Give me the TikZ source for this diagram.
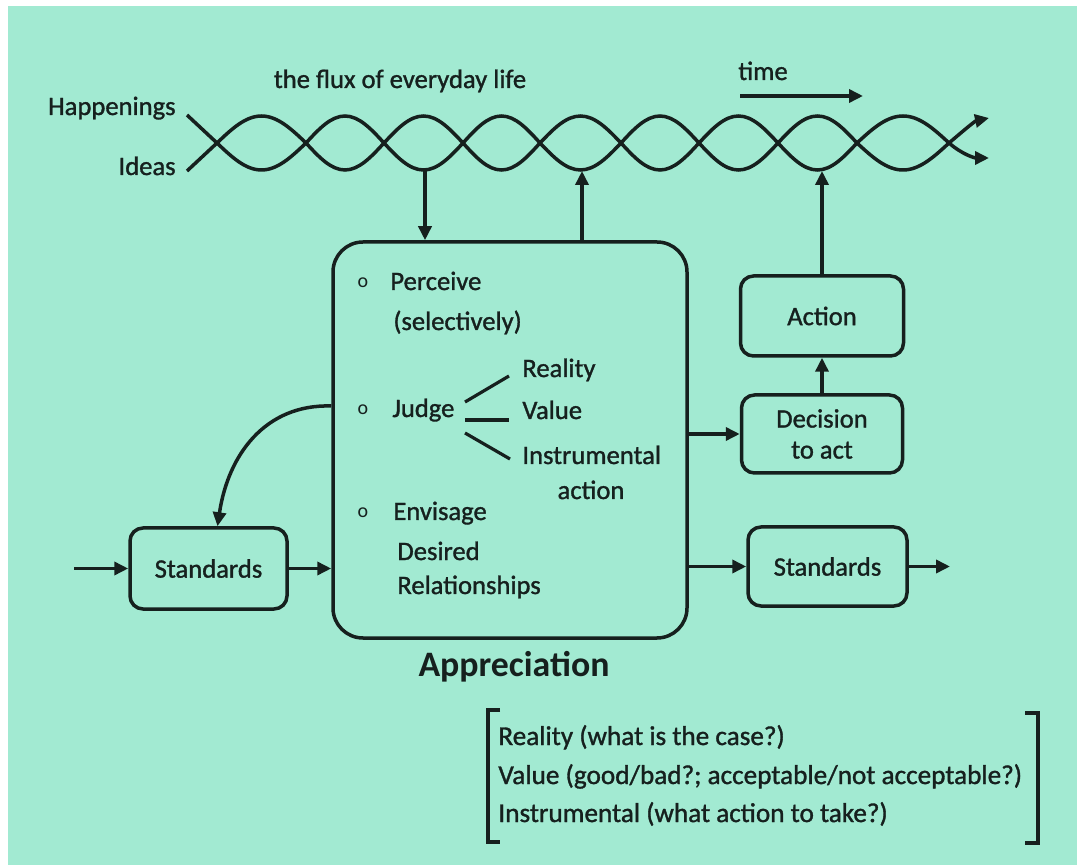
\documentclass[tikz,border=0pt]{standalone}
\usepackage{fontspec}
\setmainfont{Carlito}
\newfontfamily\medfont{Carlito}[FakeBold=1.2]
\usetikzlibrary{arrows.meta,calc}
\definecolor{mint}{RGB}{162,234,210}
\definecolor{ink}{RGB}{22,32,30}
\begin{document}
\begin{tikzpicture}[x=0.5pt,y=-0.5pt,
  txt/.style={font=\medfont\fontsize{13.3}{16}\selectfont, text=ink, inner sep=0pt},
  btxt/.style={font=\medfont\fontsize{13.6}{16}\selectfont, text=ink, inner sep=0pt},
  bul/.style={font=\fontsize{10}{12}\selectfont, text=ink, inner sep=0pt},
  box/.style={draw=ink, line width=1.75pt, rounded corners=6.5pt, inner sep=0pt,
     font=\medfont\fontsize{13.3}{15.5}\selectfont, text=ink, align=center},
  arr/.style={draw=ink, line width=1.75pt, -{Triangle[length=7pt,width=6.5pt]}},
  wave/.style={draw=ink, line width=1.75pt},
  plain/.style={draw=ink, line width=1.6pt}]
\useasboundingbox (0,0) rectangle (1081,865);
\fill[white] (0,0) rectangle (1081,865);
\fill[mint] (8,6) rectangle (1077,865);

% flux of everyday life
\draw[wave, -{Triangle[length=7pt,width=6.5pt]}] (187,115) -- (217,143) sin (261.5,170) cos (306,143) sin (345,116) cos (384,143) sin (423.5,170) cos (463,143) sin (501.5,116) cos (540,143) sin (580.5,170) cos (621,143) sin (660,116) cos (699,143) sin (738.5,170) cos (778,143) sin (817.5,116) cos (857,143) sin (903,170) cos (949,143) .. controls (963,131) and (975,121) .. (989,118);
\draw[wave, -{Triangle[length=7pt,width=6.5pt]}] (187,171) -- (217,143) sin (261.5,116) cos (306,143) sin (345,170) cos (384,143) sin (423.5,116) cos (463,143) sin (501.5,170) cos (540,143) sin (580.5,116) cos (621,143) sin (660,170) cos (699,143) sin (738.5,116) cos (778,143) sin (817.5,170) cos (857,143) sin (903,116) cos (949,143) .. controls (963,155) and (975,158) .. (989,158);

\node[txt, anchor=base east] (happ) at (176,115) {Happenings};
\node[txt, anchor=base east] (ideas) at (176,175) {Ideas};
\node[txt, anchor=base] (flux) at (400,88) {the flux of everyday life};
\node[txt, anchor=base west] (time) at (738,80) {time};
\coordinate (t1) at (740,96);
\coordinate (t2) at (863,96);
\draw[arr] (t1) -- (t2);

% boxes
\node[box, minimum width=177pt, minimum height=198pt, rounded corners=15pt] (appr) at (510,440) {};
\node[box, minimum width=81.5pt, minimum height=40pt] (act) at (822,316) {Action};
\node[box, minimum width=80.5pt, minimum height=39pt] (dec) at (822,434) {Decision\\to act};
\node[box, minimum width=79.5pt, minimum height=39.5pt] (stdR) at (827.5,566.5) {Standards};
\node[box, minimum width=78.5pt, minimum height=40.5pt] (stdL) at (208.5,568.5) {Standards};

% contents of appreciation
\node[bul] (b1) at (363,283) {o};
\node[txt, anchor=base west] (perc) at (390,290) {Perceive};
\node[txt, anchor=base west] (sel) at (393,330) {(selectively)};
\node[bul] (b2) at (363,410) {o};
\node[txt, anchor=base west] (judge) at (392,417) {Judge};
\node[txt, anchor=base west] (real) at (522,377) {Reality};
\node[txt, anchor=base west] (val) at (522,419) {Value};
\node[txt, anchor=base west] (instr) at (522,464) {Instrumental};
\node[txt, anchor=base] (actn) at (591,499) {action};
\node[bul] (b3) at (363,513) {o};
\node[txt, anchor=base west] (env) at (393,520) {Envisage};
\node[txt, anchor=base west] (des) at (397,560) {Desired};
\node[txt, anchor=base west] (rel) at (397,594) {Relationships};
\node[txt, font=\fontsize{17.9}{20}\selectfont\bfseries, anchor=base] (apprl) at (514,676) {Appreciation};

\coordinate (j1) at (465,402); \coordinate (r1) at (509,376);
\coordinate (j2) at (465,420); \coordinate (r2) at (509,420);
\coordinate (j3) at (465,433); \coordinate (r3) at (510,459);
\draw[plain] (j1) -- (r1);
\draw[plain] (j2) -- (r2);
\draw[plain] (j3) -- (r3);

% connectors
\coordinate (w1) at (425,171);
\coordinate (w2) at (582,171);
\coordinate (w3) at (822,171);
\draw[arr] (w1) -- (w1 |- appr.north);
\draw[arr] (w2 |- appr.north) -- (w2);
\draw[arr] (act.north) -- (w3);
\draw[arr] (dec.north) -- (act.south);
\draw[arr] (appr.east |- dec.west) -- (dec.west);
\draw[arr] (appr.east |- stdR.west) -- (stdR.west);
\coordinate (outR) at (950,566.5);
\draw[arr] (stdR.east) -- (outR);
\coordinate (inL) at (74,568.5);
\draw[arr] (inL) -- (stdL.west);
\draw[arr] (stdL.east) -- (stdL.east -| appr.west);
\draw[arr] (appr.west |- 0,406) .. controls (265,404) and (228,455) .. ([xshift=4.5pt]stdL.north);

% bracket legend
\draw[plain, line width=1.75pt] (500,710) -- (488,710) -- (488,842) -- (500,842);
\draw[plain, line width=1.75pt] (1025,713) -- (1038,713) -- (1038,843) -- (1025,843);
\node[btxt, anchor=base west] (lg1) at (498,745) {Reality (what is the case?)};
\node[btxt, anchor=base west] (lg2) at (498,784) {Value (good/bad?; acceptable/not acceptable?)};
\node[btxt, anchor=base west] (lg3) at (498,822) {Instrumental (what action to take?)};
\end{tikzpicture}
\end{document}
